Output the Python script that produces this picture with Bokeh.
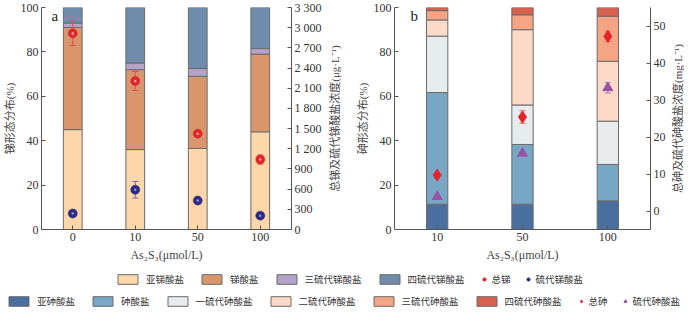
import math
from bokeh.plotting import figure
from bokeh.models import (ColumnDataSource, Range1d, FactorRange, LinearAxis, FixedTicker,
                          Legend, LegendItem, Label)
from bokeh.layouts import column, row
from bokeh.embed import file_html
from bokeh.resources import INLINE

# ---------------- data: panel a (antimony) ----------------
sb_doses = ["0", "10", "50", "100"]
sb_species = ["亚锑酸盐", "锑酸盐", "三硫代锑酸盐", "四硫代锑酸盐"]
sb_antimonite = [45.0, 36.0, 36.5, 44.0]
sb_antimonate = [46.0, 36.0, 32.5, 35.0]
sb_trithio = [2.0, 3.0, 3.5, 2.5]
sb_tetrathio = [7.0, 25.0, 27.5, 18.5]
sb_total = [2915, 2208, 1425, 1040]
sb_total_err = [180, 140, 25, 67]
sb_thio = [238, 591, 430, 206]
sb_thio_err = [40, 123, 20, 15]
sb_conc_ticks = [0, 300, 600, 900, 1200, 1500, 1800, 2100, 2400, 2700, 3000, 3300]
sb_conc_labels = ["0", "300", "600", "900", "1 200", "1 500", "1 800", "2 100",
                  "2 400", "2 700", "3 000", "3 300"]

# ---------------- data: panel b (arsenic) ----------------
as_doses = ["10", "50", "100"]
as_species = ["亚砷酸盐", "砷酸盐", "一硫代砷酸盐", "二硫代砷酸盐", "三硫代砷酸盐", "四硫代砷酸盐"]
as_arsenite = [11.4, 11.4, 12.9]
as_arsenate = [50.3, 26.9, 16.4]
as_mono = [25.4, 17.8, 19.5]
as_di = [7.3, 33.9, 27.0]
as_tri = [4.2, 6.7, 20.3]
as_tetra = [1.4, 3.3, 3.9]
as_total = [9.7, 25.4, 47.2]
as_total_err = [0.8, 1.7, 1.4]
as_thio = [3.9, 15.6, 33.3]
as_thio_err = [0.3, 0.4, 1.4]
as_conc_ticks = [0, 10, 20, 30, 40, 50]

pct_ticks = [0, 20, 40, 60, 80, 100]

# ---------------- styles ----------------
SB_COLORS = ["#fdd6a9", "#d9966c", "#b6a3ca", "#6f8daa"]
AS_COLORS = ["#4a70a0", "#78a7c5", "#e6ebed", "#fddac7", "#f4a583", "#d6614f"]
RED = "#e3242b"
NAVY = "#2b2a88"
PURPLE = "#9a52a6"
EDGE = "#6b6b6b"
AXC = "#555555"
SERIF = "Liberation Serif"
MIXED = "Liberation Serif, Noto Sans CJK SC"
CJK = "Noto Sans CJK SC"

FIG_H = 264
MB_TOP = 7
MB_BOT = 35
NAN = float("nan")


def style_axis(ax, label_size="11px"):
    ax.axis_line_color = AXC
    ax.axis_line_width = 1
    ax.major_tick_line_color = AXC
    ax.major_tick_in = 4
    ax.major_tick_out = 0
    ax.minor_tick_line_color = None
    ax.major_label_text_font = SERIF
    ax.major_label_text_font_size = "12px"
    ax.major_label_text_color = "#333333"
    ax.major_label_standoff = 3
    ax.axis_label_text_font = MIXED
    ax.axis_label_text_font_style = "normal"
    ax.axis_label_text_font_size = label_size
    ax.axis_label_text_color = "#444444"
    ax.axis_label_standoff = 2


def base_fig(doses, width, mbl, mbr, extra_range):
    p = figure(width=width, height=FIG_H, x_range=FactorRange(factors=doses, range_padding=0),
               y_range=Range1d(0, 100), output_backend="svg", toolbar_location=None,
               min_border_left=mbl, min_border_right=mbr, min_border_top=MB_TOP,
               min_border_bottom=MB_BOT)
    p.extra_y_ranges = {"conc": extra_range}
    p.outline_line_color = None
    p.xgrid.visible = False
    p.ygrid.visible = False
    p.background_fill_color = "white"
    p.border_fill_color = "white"
    p.yaxis.ticker = FixedTicker(ticks=pct_ticks)
    style_axis(p.xaxis[0])
    style_axis(p.yaxis[0])
    p.xaxis.axis_label = "As₂S₃(μmol/L)"
    p.xaxis.axis_label_text_font = SERIF
    p.xaxis.axis_label_text_font_size = "12px"
    p.xaxis.axis_label_standoff = 4
    return p


def title_strip(text, width):
    # narrow strip holding the right-hand axis title, reading bottom-to-top
    t = figure(width=width, height=FIG_H, x_range=Range1d(0, 1), y_range=Range1d(0, 100),
               output_backend="svg", toolbar_location=None, x_axis_type=None, y_axis_type=None,
               min_border_left=0, min_border_right=0, min_border_top=MB_TOP,
               min_border_bottom=MB_BOT)
    t.outline_line_color = None
    t.xgrid.visible = False
    t.ygrid.visible = False
    t.add_layout(Label(x=0.5, y=50, text=text, angle=math.pi / 2, text_align="center",
                       text_baseline="middle", text_font=MIXED, text_font_size="11px",
                       text_color="#444444"))
    return t


def error_bars(p, src, lo, hi, color):
    p.segment(x0="dose", y0=lo, x1="dose", y1=hi, source=src, y_range_name="conc",
              line_color=color, line_width=1)
    for f in (lo, hi):
        p.scatter(x="dose", y=f, source=src, y_range_name="conc", marker="dash", size=6,
                  line_color=color, line_width=1)


# ---------------- panel a ----------------
pa = base_fig(sb_doses, 326, 37, 35, Range1d(0, 3300))
pa.yaxis.axis_label = "锑形态分布(%)"
ra = LinearAxis(y_range_name="conc", ticker=FixedTicker(ticks=sb_conc_ticks),
                major_label_overrides={t: l for t, l in zip(sb_conc_ticks, sb_conc_labels)})
style_axis(ra)
pa.add_layout(ra, "right")
ta = title_strip("总锑及硫代锑酸盐浓度(μg·L⁻¹)", 16)

src_a = ColumnDataSource(dict(dose=sb_doses, s0=sb_antimonite, s1=sb_antimonate,
                              s2=sb_trithio, s3=sb_tetrathio,
                              tot=sb_total, tot_lo=[v - e for v, e in zip(sb_total, sb_total_err)],
                              tot_hi=[v + e for v, e in zip(sb_total, sb_total_err)],
                              thio=sb_thio, thio_lo=[v - e for v, e in zip(sb_thio, sb_thio_err)],
                              thio_hi=[v + e for v, e in zip(sb_thio, sb_thio_err)]))
pa.vbar_stack(["s0", "s1", "s2", "s3"], x="dose", width=0.3, fill_color=SB_COLORS,
              line_color=EDGE, line_width=1, source=src_a)
error_bars(pa, src_a, "tot_lo", "tot_hi", "#e8474c")
error_bars(pa, src_a, "thio_lo", "thio_hi", "#7b6ea3")
pa.scatter(x="dose", y="tot", source=src_a, y_range_name="conc", marker="circle", size=9,
           fill_color=RED, line_color="#c81e25", line_width=0.5)
pa.scatter(x="dose", y="thio", source=src_a, y_range_name="conc", marker="circle", size=9,
           fill_color=NAVY, line_color="#222270", line_width=0.5)
pa.scatter(x="dose", y="tot", source=src_a, y_range_name="conc", marker="circle", size=2.5,
           fill_color="white", fill_alpha=0.6, line_color=None)
pa.scatter(x="dose", y="thio", source=src_a, y_range_name="conc", marker="circle", size=2.5,
           fill_color="white", fill_alpha=0.5, line_color=None)
pa.add_layout(Label(x=10, y=96, x_units="screen", y_units="data", text="a",
                    text_font=SERIF, text_font_size="15px", text_baseline="middle",
                    text_color="#222222"))

# ---------------- panel b ----------------
pb = base_fig(as_doses, 328, 52, 20, Range1d(-5, 55))
pb.yaxis.axis_label = "砷形态分布(%)"
rb = LinearAxis(y_range_name="conc", ticker=FixedTicker(ticks=as_conc_ticks))
style_axis(rb)
pb.add_layout(rb, "right")
tb = title_strip("总砷及硫代砷酸盐浓度(mg·L⁻¹)", 14)

src_b = ColumnDataSource(dict(dose=as_doses, s0=as_arsenite, s1=as_arsenate, s2=as_mono,
                              s3=as_di, s4=as_tri, s5=as_tetra,
                              tot=as_total, tot_lo=[v - e for v, e in zip(as_total, as_total_err)],
                              tot_hi=[v + e for v, e in zip(as_total, as_total_err)],
                              thio=as_thio, thio_lo=[v - e for v, e in zip(as_thio, as_thio_err)],
                              thio_hi=[v + e for v, e in zip(as_thio, as_thio_err)]))
pb.vbar_stack(["s0", "s1", "s2", "s3", "s4", "s5"], x="dose", width=0.25, fill_color=AS_COLORS,
              line_color=EDGE, line_width=1, source=src_b)
error_bars(pb, src_b, "tot_lo", "tot_hi", "#ef6a5e")
error_bars(pb, src_b, "thio_lo", "thio_hi", "#b07bbb")
pb.scatter(x="dose", y="tot", source=src_b, y_range_name="conc", marker="diamond", size=12,
           fill_color=RED, line_color=RED)
pb.scatter(x="dose", y="thio", source=src_b, y_range_name="conc", marker="triangle", size=10,
           fill_color=PURPLE, line_color=PURPLE)
pb.add_layout(Label(x=16, y=96, x_units="screen", y_units="data", text="b",
                    text_font=SERIF, text_font_size="15px", text_baseline="middle",
                    text_color="#222222"))

# ---------------- legend strip ----------------
LEG_W, LEG_H = 684, 44
pl = figure(width=LEG_W, height=LEG_H, x_range=Range1d(0, 1), y_range=Range1d(0, 1),
            output_backend="svg", toolbar_location=None, x_axis_type=None, y_axis_type=None,
            min_border=0)
pl.outline_line_color = None
pl.xgrid.visible = False
pl.ygrid.visible = False

FS = 9.5
GW, STAND, SPACE = 25, 6, 15


def box_items(names, colors):
    items = []
    for n, c in zip(names, colors):
        r = pl.vbar(x=[NAN], top=[NAN], width=0.1, fill_color=c, line_color=EDGE, line_width=1)
        items.append(LegendItem(label=n, renderers=[r]))
    return items


def box_width(names):
    return sum(GW + STAND + FS * len(n) for n in names) + SPACE * (len(names) - 1)


def make_legend(items, x, y, gw, standoff, spacing):
    leg = Legend(items=items, orientation="horizontal", location=(x, y),
                 glyph_width=gw, glyph_height=12, label_standoff=standoff, spacing=spacing,
                 padding=0, margin=0, border_line_color=None, background_fill_alpha=0,
                 label_text_font=CJK, label_text_font_size=f"{FS}px",
                 label_text_color="#333333", label_height=12)
    pl.add_layout(leg)


# row 1 (antimony)
x1 = 115
make_legend(box_items(sb_species, SB_COLORS), x1, 22, GW, STAND, SPACE)
m1a = pl.scatter(x=[NAN], y=[NAN], marker="circle", size=8, fill_color=RED, line_color=RED)
m1b = pl.scatter(x=[NAN], y=[NAN], marker="circle", size=8, fill_color=NAVY, line_color=NAVY)
make_legend([LegendItem(label="总锑", renderers=[m1a]), LegendItem(label="硫代锑酸盐", renderers=[m1b])],
            x1 + box_width(sb_species) + SPACE, 22, 8, 4, 12)

# row 2 (arsenic)
x2 = 6
make_legend(box_items(as_species, AS_COLORS), x2, 0, GW, STAND, SPACE)
m2a = pl.scatter(x=[NAN], y=[NAN], marker="diamond", size=11, fill_color=RED, line_color=RED)
m2b = pl.scatter(x=[NAN], y=[NAN], marker="triangle", size=9, fill_color=PURPLE, line_color=PURPLE)
make_legend([LegendItem(label="总砷", renderers=[m2a]), LegendItem(label="硫代砷酸盐", renderers=[m2b])],
            x2 + box_width(as_species) + SPACE, 0, 8, 4, 12)

layout = column(row(pa, ta, pb, tb), pl)
open("out.html", "w").write(file_html(layout, INLINE))
